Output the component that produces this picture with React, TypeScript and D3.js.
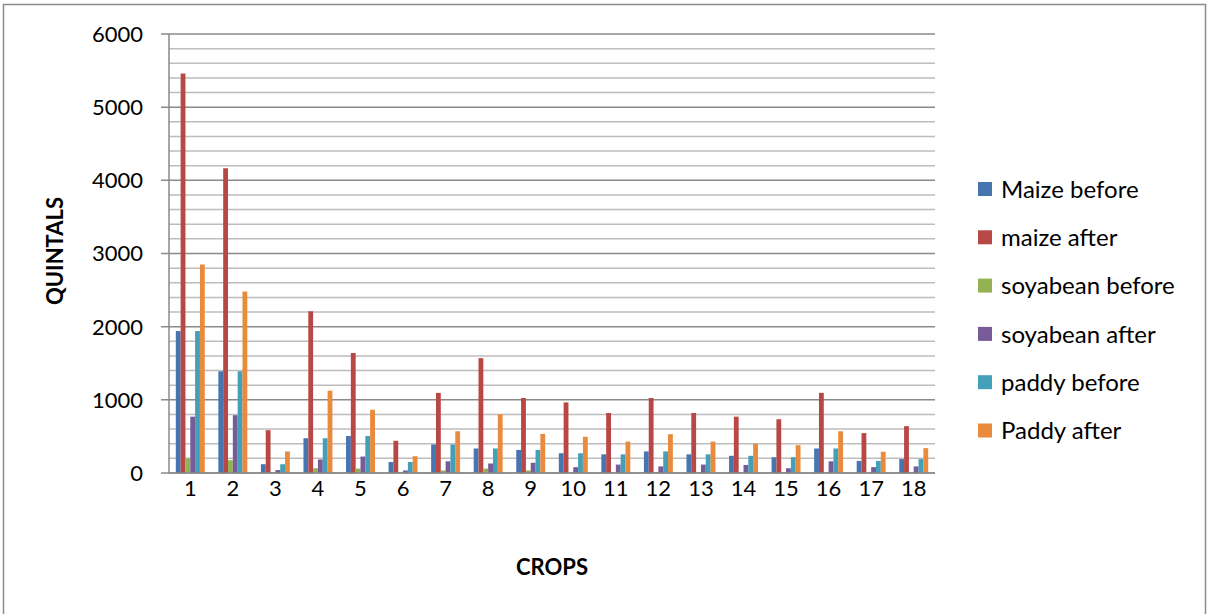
import React from 'react';
import * as d3 from 'd3';

// chart values
const crops = ['1', '2', '3', '4', '5', '6', '7', '8', '9', '10', '11', '12', '13', '14', '15', '16', '17', '18'];
const seriesNames = ['Maize before', 'maize after', 'soyabean before', 'soyabean after', 'paddy before', 'Paddy after'];
const maizeBefore = [1940, 1390, 120, 475, 505, 150, 390, 335, 315, 270, 255, 295, 255, 235, 215, 335, 165, 190];
const maizeAfter = [5460, 4165, 585, 2210, 1640, 440, 1095, 1570, 1025, 965, 820, 1025, 820, 770, 735, 1095, 545, 640];
const soyabeanBefore = [200, 175, 10, 65, 60, 15, 35, 60, 35, 8, 8, 8, 8, 8, 8, 12, 5, 5];
const soyabeanAfter = [770, 790, 40, 185, 225, 35, 160, 130, 140, 80, 115, 90, 115, 110, 65, 160, 80, 90];
const paddyBefore = [1940, 1390, 120, 475, 505, 150, 390, 335, 315, 270, 255, 295, 255, 235, 215, 335, 165, 190];
const paddyAfter = [2850, 2480, 295, 1125, 865, 230, 570, 800, 535, 495, 430, 530, 430, 400, 380, 570, 290, 340];
const yTicks = [0, 1000, 2000, 3000, 4000, 5000, 6000];

const colors = ['#4675B0', '#B84845', '#93B253', '#785C9A', '#449FB8', '#EA8A3C'];
const allSeries = [maizeBefore, maizeAfter, soyabeanBefore, soyabeanAfter, paddyBefore, paddyAfter];

const width = 1207, height = 614;
const margin = { top: 34, left: 169, right: 935, bottom: 473 };
const font = 'Lato, "Open Sans", sans-serif';

export default function App() {
  const x0 = d3.scaleBand().domain(crops).range([margin.left, margin.right]).paddingInner(0.32).paddingOuter(0.16);
  const x1 = d3.scaleBand().domain(seriesNames).range([0, x0.bandwidth()]);
  const y = d3.scaleLinear().domain([0, 6000]).range([margin.bottom, margin.top]);
  const minor = d3.range(200, 6001, 200).filter(v => v % 1000 !== 0);

  return (
    <svg width={width} height={height} style={{ position: 'absolute', left: 0, top: 0, background: '#fff' }}>
      <rect x={3.5} y={4.5} width={1202} height={640} fill="#fff" stroke="#8c8c8c" strokeWidth={1.5} />
      {/* minor grid */}
      {minor.map(v => (
        <line key={'m' + v} x1={margin.left} x2={margin.right} y1={y(v)} y2={y(v)} stroke="#bdbdbd" strokeWidth={1.5} />
      ))}
      {/* major grid + ticks */}
      {yTicks.map(v => (
        <g key={'t' + v}>
          <line x1={margin.left - 8} x2={margin.right} y1={y(v)} y2={y(v)} stroke="#8a8a8a" strokeWidth={1.5} />
          <text x={143} y={y(v)} dy="0.36em" textAnchor="end" fontFamily={font} fontSize={22} fill="#000">{v}</text>
        </g>
      ))}
      {/* bars */}
      {allSeries.map((vals, si) => (
        <g key={'s' + si} fill={colors[si]}>
          {vals.map((v, i) => (
            <rect key={i} x={(x0(crops[i]) as number) + (x1(seriesNames[si]) as number)} y={y(v)}
              width={x1.bandwidth()} height={y(0) - y(v)} />
          ))}
        </g>
      ))}
      {/* axes */}
      <line x1={margin.left} x2={margin.left} y1={margin.top} y2={margin.bottom} stroke="#8a8a8a" strokeWidth={1.5} />
      <line x1={margin.left} x2={margin.right} y1={margin.bottom} y2={margin.bottom} stroke="#8a8a8a" strokeWidth={1.5} />
      {crops.map(c => (
        <text key={'c' + c} x={(x0(c) as number) + x0.bandwidth() / 2} y={496} textAnchor="middle"
          fontFamily={font} fontSize={22} fill="#000">{c}</text>
      ))}
      <text x={552} y={575} textAnchor="middle" fontFamily={font} fontSize={22} fontWeight="bold">CROPS</text>
      <text transform="translate(63,251) rotate(-90)" textAnchor="middle" fontFamily={font} fontSize={22} fontWeight="bold">QUINTALS</text>
      {/* legend */}
      {seriesNames.map((name, i) => (
        <g key={'l' + i} transform={`translate(978,${189 + i * 48.3})`}>
          <rect x={0} y={-7} width={14} height={14} fill={colors[i]} />
          <text x={23} y={0} dy="0.36em" fontFamily={font} fontSize={24} fill="#000">{name}</text>
        </g>
      ))}
    </svg>
  );
}
